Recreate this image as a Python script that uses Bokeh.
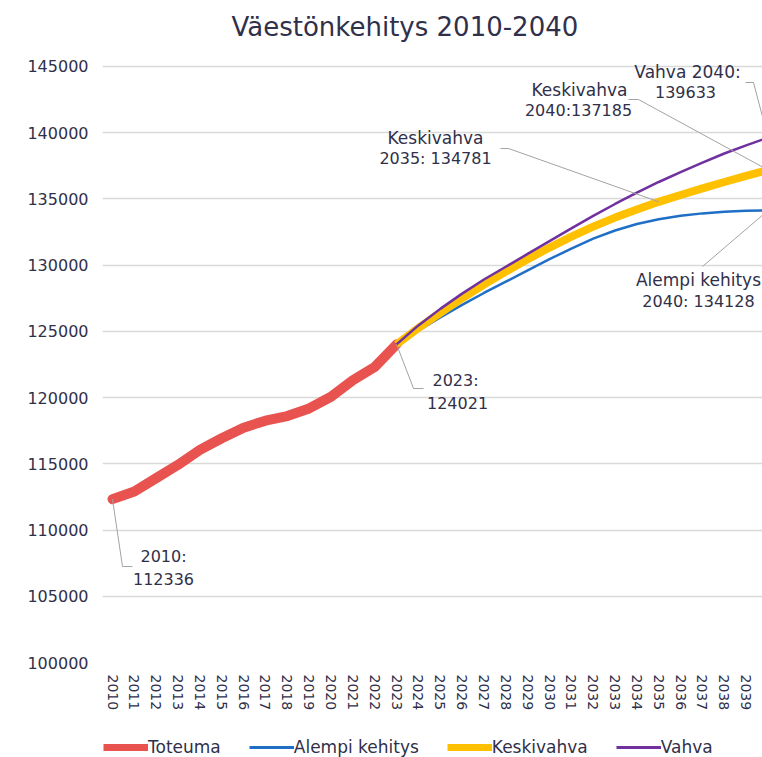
from bokeh.plotting import figure
from bokeh.layouts import column
from bokeh.models import (ColumnDataSource, Range1d, FixedTicker, Legend, LegendItem,
                          BasicTickFormatter)
from bokeh.core.properties import value
from bokeh.embed import file_html
from bokeh.resources import INLINE

# ---------------- data ----------------
years_actual = list(range(2010, 2024))
toteuma = [112336, 112917, 113922, 114925, 116053, 116930, 117732,
           118258, 118609, 119185, 120063, 121316, 122318, 124021]

years_proj = list(range(2023, 2041))
alempi = [124021, 125050, 126050, 127000, 127900, 128750, 129600, 130450, 131250,
          132000, 132620, 133110, 133470, 133730, 133910, 134030, 134100, 134128]
keskivahva = [124021, 125250, 126400, 127500, 128540, 129520, 130450, 131330, 132150,
              132910, 133590, 134210, 134781, 135301, 135801, 136281, 136741, 137185]
vahva = [124021, 125450, 126700, 127850, 128920, 129880, 130850, 131820, 132780,
         133720, 134620, 135470, 136280, 137030, 137750, 138430, 139050, 139633]

x_ticks = list(range(2010, 2041))
y_ticks = list(range(100000, 145001, 5000))

series_names = ["Toteuma", "Alempi kehitys", "Keskivahva", "Vahva"]
title_text = "Väestönkehitys 2010-2040"

# ---------------- style ----------------
FONT = "DejaVu Sans"
TXT = "#30304a"
C_RED, C_BLUE, C_YEL, C_PUR = "#E8524F", "#1F6FC6", "#FFC000", "#7030A0"
LEADER = "#a3a3a3"

p = figure(width=762, height=727, output_backend="svg", toolbar_location=None,
           x_range=Range1d(2009.542, 2039.748), y_range=Range1d(100000, 146208),
           min_border_left=102, min_border_right=0, min_border_top=50, min_border_bottom=65,
           title=title_text)
p.outline_line_color = None
p.background_fill_color = "white"
p.border_fill_color = "white"

p.title.align = "left"
p.title.offset = 129
p.title.text_font = FONT
p.title.text_font_size = "26px"
p.title.text_font_style = "normal"
p.title.text_color = TXT
p.title.standoff = 18

# axes
p.yaxis.ticker = FixedTicker(ticks=y_ticks)
p.yaxis.formatter = BasicTickFormatter(use_scientific=False)
p.xaxis.ticker = FixedTicker(ticks=x_ticks)
p.xaxis.major_label_orientation = "vertical"
for ax in (p.xaxis, p.yaxis):
    ax.axis_line_color = None
    ax.major_tick_line_color = None
    ax.minor_tick_line_color = None
    ax.major_tick_in = 0
    ax.major_tick_out = 0
    ax.major_label_text_font = FONT
    ax.major_label_text_color = TXT
p.yaxis.major_label_text_font_size = "16px"
p.yaxis.major_label_standoff = 14
p.xaxis.major_label_text_font_size = "14px"
p.xaxis.major_label_standoff = 12

p.xgrid.grid_line_color = None
p.ygrid.ticker = FixedTicker(ticks=y_ticks)
p.ygrid.grid_line_color = "#d9d9d9"
p.ygrid.grid_line_width = 1.5

# ---------------- lines ----------------
p.line(years_actual, toteuma, line_color=C_RED, line_width=10,
       line_cap="round", line_join="round")
p.line(years_proj, alempi, line_color=C_BLUE, line_width=2.5, line_join="round")
p.line(years_proj, keskivahva, line_color=C_YEL, line_width=8, line_join="round")
p.line(years_proj, vahva, line_color=C_PUR, line_width=2.5, line_join="round")

# ---------------- callouts ----------------
k35 = years_proj.index(2035)
leader_xs = [
    [years_actual[0], 2010.458, 2010.915],
    [years_actual[-1], 2023.778, 2024.236],
    [2027.757, 2028.124, 2035],
    [2033.616, 2034.073, years_proj[-1]],
    [2038.97, 2039.336, years_proj[-1]],
    [2037.002, years_proj[-1]],
]
leader_ys = [
    [toteuma[0], 107247, 107247],
    [toteuma[-1], 120687, 120687],
    [138809, 138809, keskivahva[k35]],
    [142508, 142508, keskivahva[-1]],
    [143792, 143792, vahva[-1]],
    [129899, alempi[-1]],
]
p.multi_line(leader_xs, leader_ys, line_color=LEADER, line_width=1)

words = ColumnDataSource(dict(
    x=[2024.783, 2031.373, 2036.316, 2036.819],
    y=[139564, 143188, 144622, 128917],
    t=["Keskivahva", "Keskivahva", "Vahva 2040:", "Alempi kehitys"],
))
nums = ColumnDataSource(dict(
    x=[2012.334, 2012.334, 2025.698, 2025.79, 2024.783, 2031.327, 2036.224, 2036.819],
    y=[108002, 106341, 121291, 119630, 138053, 141678, 143037, 127256],
    t=["2010:", f"{toteuma[0]}", "2023:", f"{toteuma[-1]}",
       f"2035: {keskivahva[k35]}", f"2040:{keskivahva[-1]}",
       f"{vahva[-1]}", f"2040: {alempi[-1]}"],
))
p.text("x", "y", text="t", source=words, text_align="center", text_baseline="middle",
       text_font=value(FONT), text_font_size="17px", text_color=TXT)
p.text("x", "y", text="t", source=nums, text_align="center", text_baseline="middle",
       text_font=value(FONT), text_font_size="16px", text_color=TXT)

# ---------------- legend strip (second figure, frame aligned with p) ----------------
q = figure(width=762, height=30, output_backend="svg", toolbar_location=None,
           x_range=Range1d(0, 1), y_range=Range1d(0, 1),
           x_axis_type=None, y_axis_type=None,
           min_border_left=0, min_border_right=0, min_border_top=0, min_border_bottom=0)
q.outline_line_color = None
q.xgrid.visible = False
q.ygrid.visible = False
off_x = [5, 6]
off_y = [5, 5]
d1 = q.line(off_x, off_y, line_color=C_RED, line_width=7)
d2 = q.line(off_x, off_y, line_color=C_BLUE, line_width=3)
d3 = q.line(off_x, off_y, line_color=C_YEL, line_width=7)
d4 = q.line(off_x, off_y, line_color=C_PUR, line_width=3)
legend = Legend(items=[LegendItem(label=n, renderers=[r])
                       for n, r in zip(series_names, [d1, d2, d3, d4])],
                orientation="horizontal", location=(1, 0),
                glyph_width=45, glyph_height=18, label_standoff=0, spacing=28,
                padding=0, margin=0, border_line_color=None, background_fill_alpha=0,
                label_text_font=FONT, label_text_font_size="17px", label_text_color=TXT,
                label_height=18)
q.add_layout(legend)

layout = column(p, q, spacing=0)
open("out.html", "w").write(file_html(layout, INLINE))
